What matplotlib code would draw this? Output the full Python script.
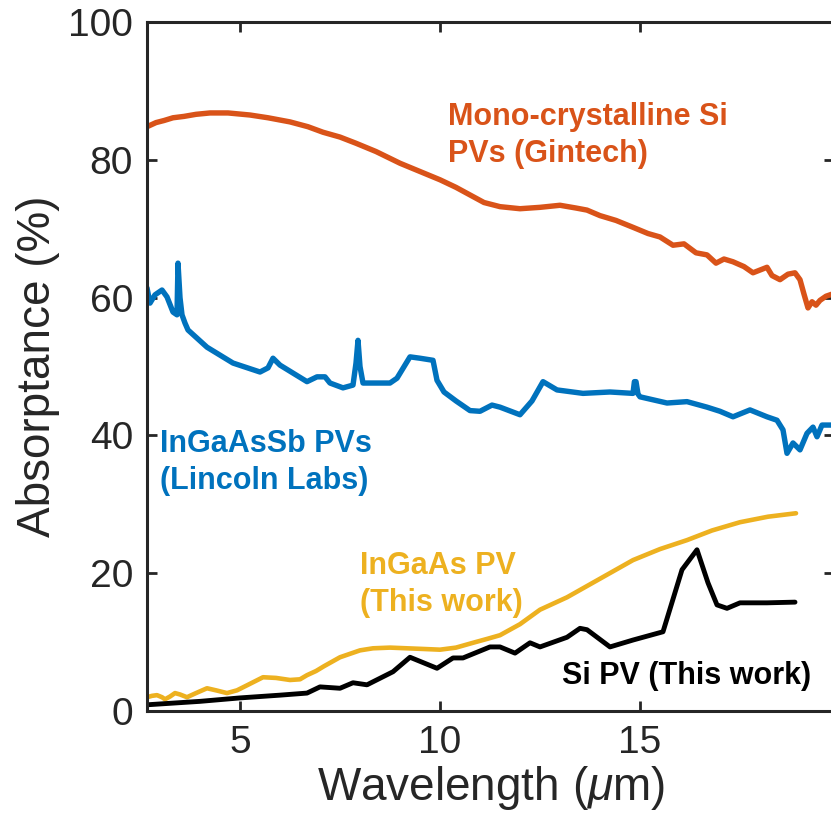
import matplotlib
matplotlib.use("Agg")
import matplotlib.pyplot as plt

plt.rcParams['font.family'] = ['Liberation Sans', 'DejaVu Sans']
plt.rcParams['mathtext.fontset'] = 'custom'
plt.rcParams['mathtext.rm'] = 'Liberation Sans'
plt.rcParams['mathtext.it'] = 'Liberation Sans:italic'

# Mono-crystalline Si PVs (Gintech)
gin_x = [2.675, 2.9, 3.1, 3.325, 3.6, 3.9, 4.25, 4.7, 5.25, 5.7, 6.25, 6.7, 7.075, 7.5, 7.9, 8.4,
         9.0, 9.5, 10.0, 10.4, 10.75, 11.1, 11.5, 12.0, 12.5, 13.0, 13.4, 13.675, 14.0, 14.4,
         14.825, 15.2, 15.5, 15.825, 16.1, 16.4, 16.675, 16.9, 17.1, 17.325, 17.6, 17.825,
         18.0, 18.175, 18.3, 18.5, 18.7, 18.875, 19.0, 19.1, 19.2, 19.3, 19.4, 19.5, 19.65, 19.85]
gin_y = [84.8, 85.4, 85.7, 86.1, 86.3, 86.6, 86.8, 86.8, 86.5, 86.1, 85.5, 84.8, 84.0, 83.3, 82.4, 81.2,
         79.5, 78.3, 77.1, 76.0, 74.9, 73.8, 73.2, 72.9, 73.1, 73.4, 73.0, 72.7, 71.9, 71.2,
         70.2, 69.3, 68.8, 67.6, 67.8, 66.5, 66.2, 65.0, 65.6, 65.2, 64.5, 63.6,
         64.0, 64.4, 63.2, 62.6, 63.4, 63.6, 62.6, 60.5, 58.5, 59.4, 58.9, 59.6, 60.2, 60.6]

# InGaAsSb PVs (Lincoln Labs)
lin_x = [2.675, 2.75, 2.875, 3.05, 3.175, 3.325, 3.425, 3.45, 3.5, 3.55, 3.625, 3.7, 4.175, 4.825,
         5.5, 5.7, 5.825, 6.0, 6.675, 6.925, 7.125, 7.25, 7.575, 7.825, 7.9, 7.95, 8.0, 8.075, 8.75,
         8.925, 9.25, 9.5, 9.825, 9.925, 10.1, 10.4, 10.75, 11.0, 11.3, 11.5, 12.0, 12.3, 12.575,
         12.925, 13.575, 14.25, 14.825, 14.86, 14.9, 14.95, 15.0, 15.675, 16.175, 16.675, 17.0, 17.325,
         17.75, 18.175, 18.425, 18.575, 18.675, 18.825, 19.0, 19.175, 19.325, 19.425, 19.55, 19.85]
lin_y = [61.4, 59.2, 60.4, 61.1, 60.1, 57.9, 57.5, 65.0, 60.0, 57.5, 56.3, 55.3, 52.8, 50.5,
         49.2, 49.8, 51.2, 50.2, 47.8, 48.5, 48.5, 47.6, 46.9, 47.3, 50.5, 53.8, 50.0, 47.6, 47.6,
         48.3, 51.4, 51.2, 50.9, 48.0, 46.3, 45.0, 43.6, 43.5, 44.4, 44.1, 43.0, 45.0, 47.8,
         46.6, 46.1, 46.3, 46.1, 47.8, 47.8, 46.0, 45.6, 44.7, 44.9, 44.1, 43.5, 42.7,
         43.7, 42.7, 42.2, 40.8, 37.4, 38.9, 37.9, 40.3, 41.2, 39.8, 41.5, 41.5]

# InGaAs PV (This work)
iga_x = [2.675, 2.8, 2.925, 3.05, 3.125, 3.25, 3.375, 3.5, 3.675, 3.9, 4.175, 4.4, 4.675, 4.925,
         5.2, 5.575, 5.9, 6.25, 6.5, 6.675, 6.9, 7.1, 7.5, 8.0, 8.325, 8.75, 9.175, 9.6, 10.0,
         10.4, 10.825, 11.2, 11.5, 12.0, 12.5, 13.175, 14.0, 14.825, 15.5, 16.175, 16.8, 17.5,
         18.2, 18.9]
iga_y = [2.0, 2.2, 2.3, 2.0, 1.7, 2.1, 2.6, 2.4, 2.0, 2.6, 3.3, 3.0, 2.6, 3.0,
         3.8, 4.9, 4.8, 4.5, 4.6, 5.2, 5.8, 6.5, 7.8, 8.8, 9.1, 9.2, 9.1, 9.0, 8.9,
         9.2, 9.9, 10.5, 11.0, 12.6, 14.7, 16.5, 19.2, 21.9, 23.5, 24.8, 26.2, 27.4,
         28.2, 28.7]

# Si PV (This work)
si_x = [2.675, 4.0, 5.0, 6.0, 6.675, 7.0, 7.5, 7.825, 8.175, 8.825, 9.25, 9.925, 10.325, 10.575, 11.25,
        11.5, 11.875, 12.25, 12.5, 13.175, 13.5, 13.675, 14.25, 14.825, 15.575, 16.05, 16.425,
        16.7, 16.925, 17.175, 17.5, 18.175, 18.875]
si_y = [0.9, 1.4, 1.9, 2.3, 2.6, 3.5, 3.3, 4.1, 3.8, 5.7, 7.8, 6.2, 7.7, 7.7, 9.3,
        9.3, 8.4, 9.9, 9.3, 10.7, 12.0, 11.8, 9.3, 10.3, 11.5, 20.5, 23.4,
        18.6, 15.4, 14.9, 15.7, 15.7, 15.8]

ORANGE = '#D95319'
BLUE = '#0072BD'
YELLOW = '#EDB120'
BLACK = '#000000'
AX = '#262626'

fig = plt.figure(figsize=(8.31, 8.30), dpi=100)
ax = fig.add_axes([147/831, 119/830, (834-147)/831, (711-22)/830])

ax.plot(gin_x, gin_y, color=ORANGE, lw=3.9, solid_joinstyle='round', solid_capstyle='round')
ax.plot(lin_x, lin_y, color=BLUE, lw=3.9, solid_joinstyle='round', solid_capstyle='round')
ax.plot(iga_x, iga_y, color=YELLOW, lw=3.3, solid_joinstyle='round', solid_capstyle='round')
ax.plot(si_x, si_y, color=BLACK, lw=3.5, solid_joinstyle='round', solid_capstyle='round')

ax.set_xlim(2.675, 19.85)
ax.set_ylim(0, 100)
ax.set_xticks([5, 10, 15])
ax.set_yticks([0, 20, 40, 60, 80, 100])

for s in ax.spines.values():
    s.set_linewidth(2.2)
    s.set_color(AX)
ax.tick_params(direction='in', length=7, width=2.0, color=AX, labelcolor=AX,
               labelsize=28, top=True, right=True, pad=10)

ax.set_xlabel('Wavelength ($\\mu$m)', fontsize=33, color=AX, labelpad=2)
ax.set_ylabel('Absorptance (%)', fontsize=33, color=AX, labelpad=6)

fs = 22
ax.text(10.2, 83.5, 'Mono-crystalline Si\nPVs (Gintech)', color=ORANGE, fontsize=fs,
        fontweight='bold', ha='left', va='center', linespacing=1.3)
ax.text(3.0, 36.1, 'InGaAsSb PVs\n(Lincoln Labs)', color=BLUE, fontsize=fs,
        fontweight='bold', ha='left', va='center', linespacing=1.3)
ax.text(8.0, 18.3, 'InGaAs PV\n(This work)', color=YELLOW, fontsize=fs,
        fontweight='bold', ha='left', va='center', linespacing=1.3)
ax.text(13.05, 5.1, 'Si PV (This work)', color=BLACK, fontsize=fs,
        fontweight='bold', ha='left', va='center')

fig.savefig('out.png', dpi=100)
